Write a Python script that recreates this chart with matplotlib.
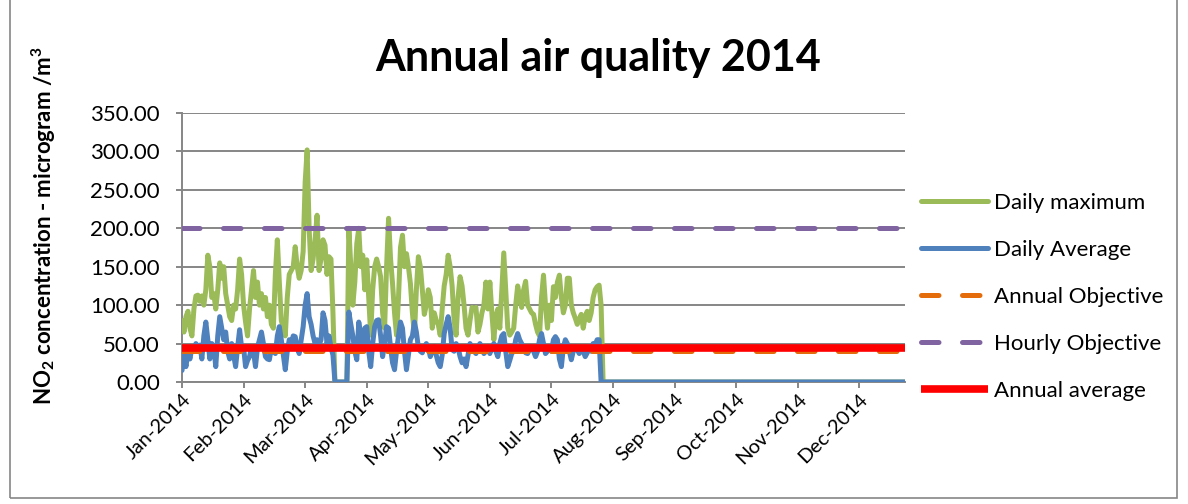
import numpy as np
import matplotlib.pyplot as plt
from matplotlib.patches import Rectangle
from matplotlib.transforms import ScaledTranslation

plt.rcParams['font.family'] = ['Lato', 'DejaVu Sans']
plt.rcParams['mathtext.fontset'] = 'custom'
plt.rcParams['mathtext.rm'] = 'Lato:bold'
plt.rcParams['mathtext.default'] = 'rm'

# -------------------------------
# Data, one value per day of 2014
# -------------------------------
# Daily maximum, 1 Jan - 31 Jul
daily_max_jan_jul = [
    80, 65, 85, 92, 70, 60, 95, 112, 113, 105, 112, 100, 120, 165, 150, 110,
    115, 95, 120, 155, 135, 150, 115, 100, 85, 80, 100, 95, 120, 160, 140,
    100, 78, 60, 95, 120, 145, 110, 130, 100, 115, 95, 110, 85, 100, 75,
    70, 140, 185, 130, 80, 70, 60, 110, 140, 145, 150, 176, 150, 135, 145,
    170, 260, 302, 200, 145, 160, 185, 217, 145, 160, 185, 178, 140, 163, 160,
    90, 0, 0, 0, 0, 0, 0, 0, 200, 150, 100, 130, 180, 200, 150, 165, 120,
    159, 110, 61, 120, 150, 160, 150, 137, 90, 70, 150, 213, 160, 128, 90,
    61, 110, 175, 191, 150, 167, 150, 128, 90, 61, 120, 163, 150, 120, 88,
    100, 120, 110, 70, 90, 80, 75, 61, 95, 125, 140, 165, 150, 125, 80, 61,
    110, 137, 125, 100, 70, 61, 80, 97, 95, 97, 65, 75, 90, 100, 130, 95,
    130, 90, 55, 85, 95, 70, 120, 168, 120, 70, 61, 65, 70, 100, 125, 110,
    97, 120, 131, 100, 95, 90, 88, 75, 65, 60, 110, 139, 100, 70, 100,
    80, 124, 110, 130, 139, 110, 90, 100, 135, 135, 100, 90, 83, 75, 82, 88,
    70, 85, 92, 80, 90, 110, 120, 124, 126, 100,
]
# Daily average, 1 Jan - 30 Jul
daily_avg_jan_jul = [
    15, 35, 20, 40, 30, 45, 40, 50, 45, 48, 30, 60, 78, 55, 30, 50,
    45, 20, 60, 85, 70, 55, 65, 40, 30, 50, 35, 20, 45, 68, 45,
    45, 20, 28, 33, 45, 40, 20, 45, 55, 65, 50, 33, 30, 29, 45,
    40, 37, 60, 72, 55, 35, 16, 40, 55, 50, 60, 59, 45, 37, 55,
    72, 100, 115, 85, 75, 60, 50, 55, 48, 55, 90, 80, 50, 60, 45,
    35, 0, 0, 0, 0, 0, 0, 0, 91, 75, 60, 40, 29, 78, 60, 45, 70,
    72, 40, 20, 50, 72, 80, 81, 60, 33, 50, 72, 70, 45, 25, 16,
    40, 60, 78, 70, 40, 16, 35, 55, 60, 78, 65, 45, 40, 38, 45,
    50, 45, 33, 40, 46, 35, 25, 20, 35, 63, 75, 85, 70, 42, 40, 50,
    45, 33, 25, 30, 20, 35, 50, 45, 40, 37, 45, 50, 45, 37, 40, 46,
    37, 45, 50, 40, 33, 50, 60, 63, 40, 20, 28, 37, 40, 55, 63, 55,
    50, 45, 38, 37, 42, 46, 40, 33, 40, 55, 63, 50, 37, 40, 45,
    40, 55, 59, 55, 30, 20, 45, 55, 50, 40, 29, 40, 46, 42, 37, 45,
    40, 33, 38, 46, 40, 50, 48, 55, 55,
]
# no readings after the data stop: both series sit on 0 to year end
daily_max = daily_max_jan_jul + [0.0] * (365 - len(daily_max_jan_jul))
daily_avg = daily_avg_jan_jul + [0.0] * (365 - len(daily_avg_jan_jul))

annual_objective = 40
hourly_objective = 200
annual_average = 44

month_labels = ["Jan-2014", "Feb-2014", "Mar-2014", "Apr-2014", "May-2014",
                "Jun-2014", "Jul-2014", "Aug-2014", "Sep-2014", "Oct-2014",
                "Nov-2014", "Dec-2014"]

days = np.arange(365)

# -------------------------------
# Plot
# -------------------------------
fig = plt.figure(figsize=(11.88, 5.04), dpi=100)
ax = fig.add_axes([182 / 1188, 1 - 382 / 504, 723 / 1188, 269 / 504])

lw = 3.6
ax.plot(days, daily_max, color="#9BBB59", lw=lw, label="Daily maximum",
        solid_joinstyle="round", solid_capstyle="round", zorder=3)
ax.plot(days, daily_avg, color="#4F81BD", lw=lw, label="Daily Average",
        solid_joinstyle="round", solid_capstyle="round", zorder=4)
ax.plot(days, [annual_objective] * len(days), color="#E46C0A", lw=lw,
        dashes=(3.5, 4.7), dash_capstyle="round", label="Annual Objective", zorder=5)
ax.plot(days, [hourly_objective] * len(days), color="#8064A2", lw=lw,
        dashes=(3.5, 4.7), dash_capstyle="round", label="Hourly Objective", zorder=6)
ax.plot(days, [annual_average] * len(days), color="#FF0000", lw=5.5,
        solid_capstyle="butt", label="Annual average", zorder=7)

ax.set_xlim(0, 364)
ax.set_ylim(0, 350)
ax.set_yticks(np.arange(0, 351, 50))
ax.set_yticklabels([f"{v:.2f}" for v in np.arange(0, 351, 50)], fontsize=16)
ax.set_xticks(np.arange(0, 365, 31))
ax.set_xticklabels(month_labels, fontsize=14.5, rotation=45, ha="right",
                   rotation_mode="anchor")
for lab in ax.get_xticklabels():
    lab.set_transform(lab.get_transform() + ScaledTranslation(7 / 72, 0, fig.dpi_scale_trans))

ax.grid(axis="y", color="#868686", lw=1.4)
ax.set_axisbelow(True)
for s in ["top", "right"]:
    ax.spines[s].set_visible(False)
for s in ["left", "bottom"]:
    ax.spines[s].set_color("#868686")
    ax.spines[s].set_linewidth(1.4)
ax.tick_params(axis="both", color="#868686", width=1.4, length=4)
ax.tick_params(axis="y", pad=12)
ax.tick_params(axis="x", pad=2)

ax.set_ylabel(r"NO$_2$ concentration - microgram /m$^3$", fontsize=16,
              fontweight="bold")
ax.yaxis.set_label_coords(58 / 1188, 1 - 226 / 504, transform=fig.transFigure)

fig.text(598 / 1188, 1 - 58 / 504, "Annual air quality 2014", fontsize=31,
         fontweight="bold", ha="center", va="center")

ax.legend(loc="center left", bbox_to_anchor=(921 / 1188, 1 - 297 / 504),
          bbox_transform=fig.transFigure, frameon=False, fontsize=16,
          handlelength=3.0, handletextpad=0.3, labelspacing=1.22,
          borderpad=0, borderaxespad=0)

# chart border
fig.patches.append(Rectangle((10 / 1188, 6 / 504), 1167 / 1188, 1.1,
                             transform=fig.transFigure, fill=False,
                             edgecolor="#868686", lw=1.2))

plt.savefig("out.png", dpi=100)
